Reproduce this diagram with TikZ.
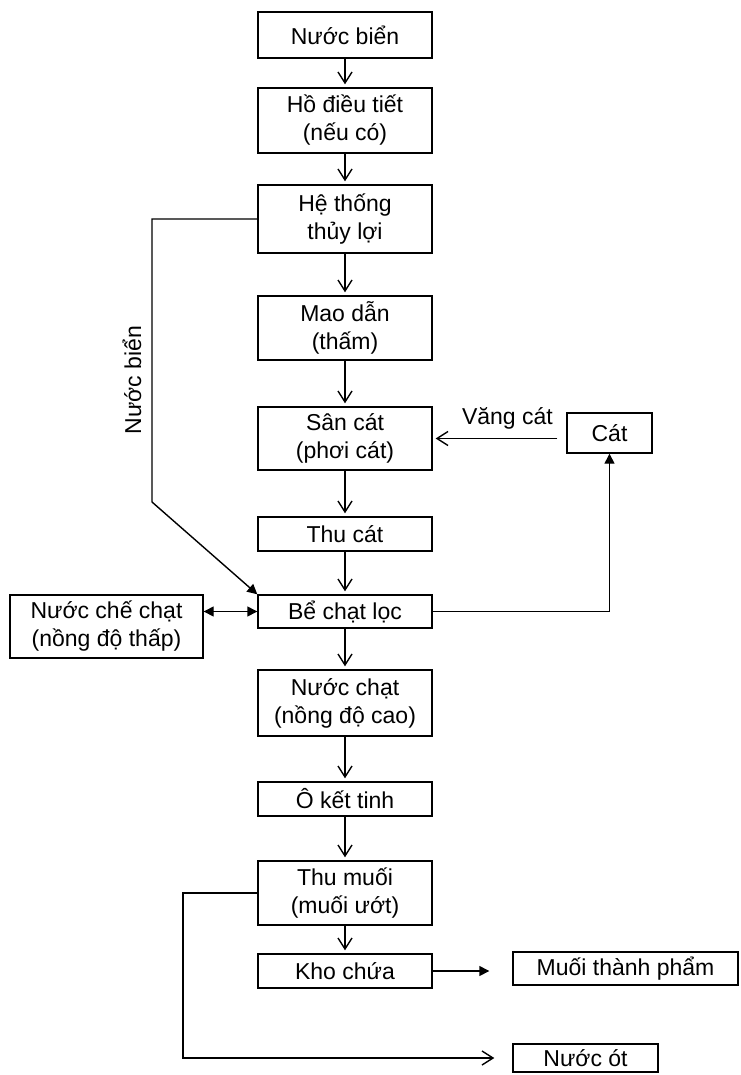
\documentclass[tikz,border=0pt]{standalone}
\usepackage{fontspec}
\setmainfont{Liberation Sans}
\usepackage{tikz}
\usetikzlibrary{arrows.meta}

\begin{document}
\begin{tikzpicture}[x=0.5pt, y=-0.5pt, line width=0.7pt,
  box/.style={draw, align=center, inner sep=0pt, minimum width=87pt, font=\fontsize{11.5}{14}\selectfont},
  txt/.style={font=\fontsize{11.5}{14}\selectfont},
  to arrow/.style={-{Straight Barb[length=5.5pt,width=7pt]}, shorten >=1.5pt},
  tri arrow/.style={-{Triangle[length=5pt,width=5pt]}}]
\useasboundingbox (0,0) rectangle (740,1075);
\node[box, minimum height=23pt] (nb) at (345,35) {Nước biển};
\node[box, minimum height=32.5pt] (ho) at (345,120.5) {Hồ điều tiết\\(nếu có)};
\node[box, minimum height=34pt] (ht) at (345,219) {Hệ thống\\thủy lợi};
\node[box, minimum height=32pt] (md) at (345,328) {Mao dẫn\\(thấm)};
\node[box, minimum height=31.5pt] (sc) at (345,438.5) {Sân cát\\(phơi cát)};
\node[box, minimum height=17pt] (tc) at (345,534) {Thu cát};
\node[box, minimum height=16.5pt] (bc) at (345,611.5) {Bể chạt lọc};
\node[box, minimum height=33pt] (ncao) at (345,703) {Nước chạt\\(nồng độ cao)};
\node[box, minimum height=17pt] (okt) at (345,799) {Ô kết tinh};
\node[box, minimum height=32pt] (tm) at (345,893) {Thu muối\\(muối ướt)};
\node[box, minimum height=17pt] (kc) at (345,971) {Kho chứa};
\node[box, minimum width=96.5pt, minimum height=31.5pt] (ncc) at (106.5,626.5) {Nước chế chạt\\(nồng độ thấp)};
\node[box, minimum width=42.5pt, minimum height=20pt] (cat) at (609.5,433) {Cát};
\node[box, minimum width=112.5pt, minimum height=16.5pt] (mtp) at (625.5,968.5) {Muối thành phẩm};
\node[box, minimum width=72.5pt, minimum height=14pt] (ot) at (585.5,1058) {Nước ót};
\node[txt, rotate=90] (lbl) at (132,380) {Nước biển};
\coordinate (k1) at (152,502);
\coordinate (k2) at (183,0);

\draw[to arrow] (nb) -- (ho);
\draw[to arrow] (ho) -- (ht);
\draw[to arrow] (ht) -- (md);
\draw[to arrow] (md) -- (sc);
\draw[to arrow] (sc) -- (tc);
\draw[to arrow] (tc) -- (bc);
\draw[to arrow] (bc) -- (ncao);
\draw[to arrow] (ncao) -- (okt);
\draw[to arrow] (okt) -- (tm);
\draw[to arrow] (tm) -- (kc);
\draw[tri arrow] (ht.west) -| (k1) -- (bc.north west);
\draw[tri arrow] (bc.east) -| (cat.south);
\draw[to arrow] ([xshift=-4.5pt]cat.west |- sc.east) -- node[txt, above=1pt, pos=0.4] (vc) {Văng cát} (sc.east);
\draw[{Triangle[length=5pt,width=5pt]}-{Triangle[length=5pt,width=5pt]}] (ncc.east |- bc.west) -- (bc.west);
\draw[tri arrow, shorten >=11.5pt] (kc.east) -- (kc.east -| mtp.west);
\draw[to arrow, shorten >=9pt] (tm.west) -| (k2 |- ot.west) -- (ot.west);
\end{tikzpicture}
\end{document}
